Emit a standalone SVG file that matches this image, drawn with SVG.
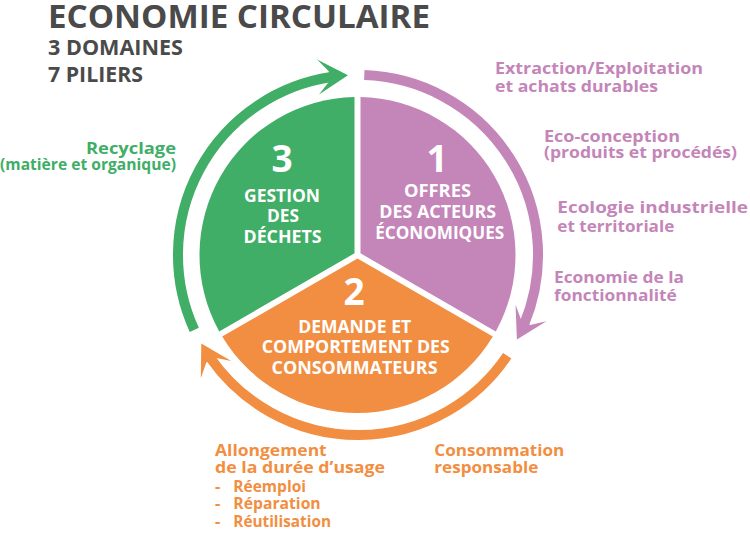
<svg xmlns="http://www.w3.org/2000/svg" width="750" height="534" viewBox="0 0 750 534">
<defs>
<style>
text{font-family:"Open Sans","Liberation Sans",sans-serif;font-weight:700}
.title{fill:#4a4a4a}
.w{fill:#fff;text-anchor:middle}
.num{font-size:37px}
.lab{font-size:18.5px}
.g{fill:#40ae66}
.p{fill:#c485b9}
.o{fill:#f28e41}
.side{font-size:16.5px}
.end{text-anchor:end}
.arc{fill:none;stroke-width:10}
</style>
<path id="head" d="M0,0 L-30,17.5 L-19,5 L-19,-5 L-30,-17.5 Z"/>
</defs>
<rect width="750" height="534" fill="#fff"/>

<g id="title" class="title">
<text x="48" y="28" font-size="32" textLength="382" lengthAdjust="spacingAndGlyphs">ECONOMIE CIRCULAIRE</text>
<text x="48" y="55" font-size="21" textLength="135" lengthAdjust="spacingAndGlyphs">3 DOMAINES</text>
<text x="48" y="81.5" font-size="21" textLength="95" lengthAdjust="spacingAndGlyphs">7 PILIERS</text>
</g>

<g id="node-3">
<path class="g" d="M354.5,253.3 L354.5,97 A158,158 0 0 0 219.2,331.4 Z"/>
<text class="w num" x="282" y="171.5">3</text>
<text class="w lab" x="282" y="202.3" textLength="76" lengthAdjust="spacingAndGlyphs">GESTION</text>
<text class="w lab" x="283" y="221.7" textLength="32" lengthAdjust="spacingAndGlyphs">DES</text>
<text class="w lab" x="282.5" y="242.7" textLength="78" lengthAdjust="spacingAndGlyphs">DÉCHETS</text>
</g>

<g id="node-1">
<path class="p" d="M360.5,253.3 L360.5,97 A158,158 0 0 1 495.8,331.4 Z"/>
<text class="w num" x="437" y="171.5">1</text>
<text class="w lab" x="437.5" y="197.3" textLength="67" lengthAdjust="spacingAndGlyphs">OFFRES</text>
<text class="w lab" x="437.7" y="218.3" textLength="117" lengthAdjust="spacingAndGlyphs">DES ACTEURS</text>
<text class="w lab" x="439.7" y="239" textLength="129" lengthAdjust="spacingAndGlyphs">ÉCONOMIQUES</text>
</g>

<g id="node-2">
<path class="o" d="M357.5,258.5 L222.2,336.6 A158,158 0 0 0 492.8,336.6 Z"/>
<text class="w num" x="354" y="305">2</text>
<text class="w lab" x="354.7" y="333.3" textLength="113" lengthAdjust="spacingAndGlyphs">DEMANDE ET</text>
<text class="w lab" x="355.8" y="353.3" textLength="188" lengthAdjust="spacingAndGlyphs">COMPORTEMENT DES</text>
<text class="w lab" x="354.5" y="374.3" textLength="166" lengthAdjust="spacingAndGlyphs">CONSOMMATEURS</text>
</g>

<g id="connectors">
<path class="arc" stroke="#40ae66" d="M194.3,329.9 A180,180 0 0 1 331.1,77"/>
<use href="#head" fill="#40ae66" transform="translate(348,75.3) rotate(-3.2)"/>
<path class="arc" stroke="#c485b9" d="M364.3,75.1 A180,180 0 0 1 524.2,324.2"/>
<use href="#head" fill="#c485b9" transform="translate(516.9,339.5) rotate(118)"/>
<path class="arc" stroke="#f28e41" d="M507.2,355.7 A180,180 0 0 1 210.4,358"/>
<use href="#head" fill="#f28e41" transform="translate(201.3,343.6) rotate(240.5)"/>
</g>

<g id="pillar-recyclage" class="g side">
<text class="end" x="176" y="154" textLength="90" lengthAdjust="spacingAndGlyphs">Recyclage</text>
<text class="end" x="176" y="170" textLength="176" lengthAdjust="spacingAndGlyphs">(matière et organique)</text>
</g>

<g id="pillar-extraction" class="p side">
<text x="495" y="74" textLength="208" lengthAdjust="spacingAndGlyphs">Extraction/Exploitation</text>
<text x="495" y="91.7" textLength="163" lengthAdjust="spacingAndGlyphs">et achats durables</text>
</g>
<g id="pillar-ecoconception" class="p side">
<text x="544" y="141.7" textLength="136" lengthAdjust="spacingAndGlyphs">Eco-conception</text>
<text x="544" y="158.3" textLength="193" lengthAdjust="spacingAndGlyphs">(produits et procédés)</text>
</g>
<g id="pillar-ecologie" class="p side">
<text x="557.3" y="213.3" textLength="190.7" lengthAdjust="spacingAndGlyphs">Ecologie industrielle</text>
<text x="557.3" y="231.7" textLength="117" lengthAdjust="spacingAndGlyphs">et territoriale</text>
</g>
<g id="pillar-fonctionnalite" class="p side">
<text x="554" y="283.3" textLength="130" lengthAdjust="spacingAndGlyphs">Economie de la</text>
<text x="554" y="300.7" textLength="122.7" lengthAdjust="spacingAndGlyphs">fonctionnalité</text>
</g>

<g id="pillar-allongement" class="o side">
<text x="215" y="456" textLength="111.7" lengthAdjust="spacingAndGlyphs">Allongement</text>
<text x="215" y="473.3" textLength="170" lengthAdjust="spacingAndGlyphs">de la durée d’usage</text>
<text y="491.7"><tspan x="215">-</tspan><tspan x="233.3" textLength="72.7" lengthAdjust="spacingAndGlyphs">Réemploi</tspan></text>
<text y="509.3"><tspan x="215">-</tspan><tspan x="233.3" textLength="87.4" lengthAdjust="spacingAndGlyphs">Réparation</tspan></text>
<text y="526.7"><tspan x="215">-</tspan><tspan x="233.3" textLength="97.7" lengthAdjust="spacingAndGlyphs">Réutilisation</tspan></text>
</g>
<g id="pillar-consommation" class="o side">
<text x="434.3" y="456" textLength="130" lengthAdjust="spacingAndGlyphs">Consommation</text>
<text x="434.3" y="473.3" textLength="104" lengthAdjust="spacingAndGlyphs">responsable</text>
</g>
</svg>
